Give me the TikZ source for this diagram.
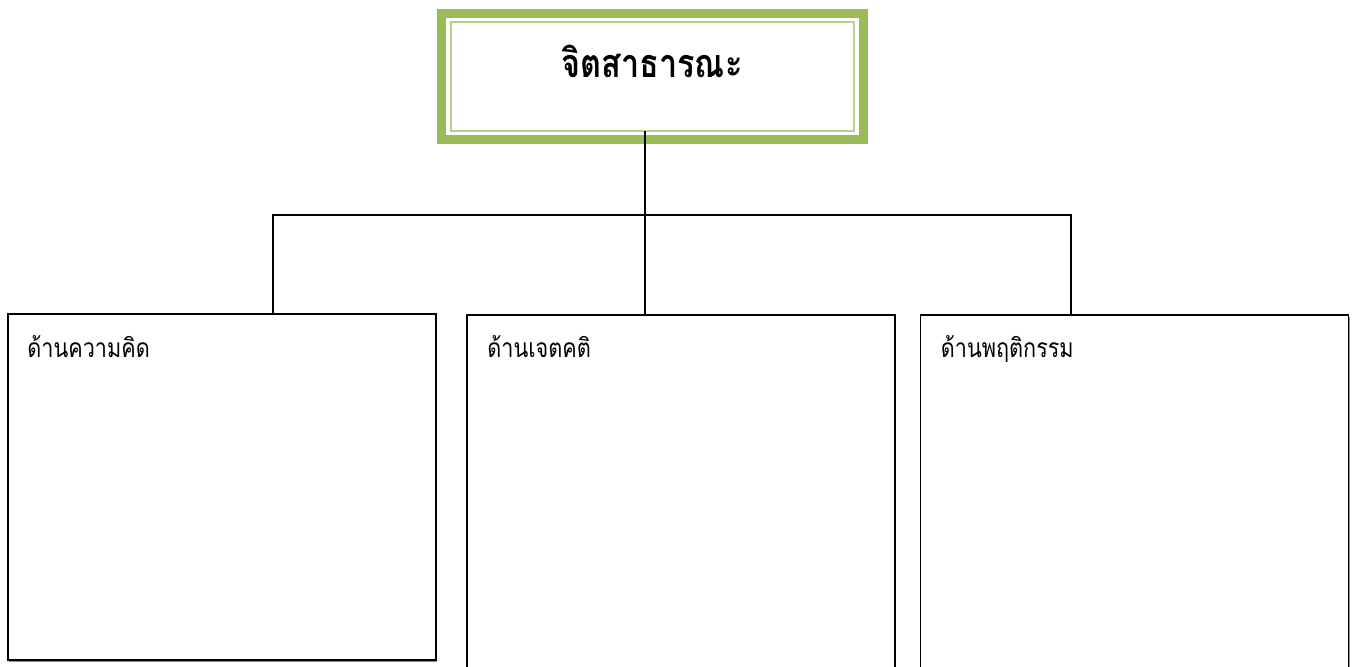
\documentclass[tikz,border=0pt]{standalone}
\usepackage{fontspec}
\newfontfamily\thaifont[Script=Thai, FakeStretch=0.82]{Loma}
\usetikzlibrary{calc,shadows}
\definecolor{framegreen}{HTML}{9BBB59}
\definecolor{paleframe}{HTML}{B9CF8C}
\begin{document}
\begin{tikzpicture}[x = 0.02cm, y = -0.02cm,
        titlebox/.style = {draw = framegreen, line width = 5.1pt, inner sep = 0, outer sep = 0,
                           minimum width = 8.44cm, minimum height = 2.52cm},
        innerframe/.style = {draw = paleframe, line width = 1pt},
        sidebox/.style = {draw, line width = 0.8pt, fill = white, inner sep = 0, outer sep = 0,
                          minimum width = 8.56cm, minimum height = 6.92cm,
                          drop shadow = {shadow xshift = 0.6pt, shadow yshift = -1.2pt, fill = black!45, opacity = 1}},
        titletext/.style = {font = \thaifont\bfseries\fontsize{22.5}{26}\selectfont, inner sep = 0},
        caption/.style = {font = \thaifont\fontsize{15}{18}\selectfont, inner sep = 0, anchor = base west}]
    \clip (0, 0) rectangle (1352, 666);
    % heading
    \node [titlebox] (title) at (652.5, 76.5) {};
    \draw [innerframe] ($(title.north west) + (9.5, 8.5)$) rectangle ($(title.south east) + (-9.5, -8.5)$);
    \node [titletext, anchor = base] (name) at (652, 77) {จิตสาธารณะ};

    % the three sides
    \node [sidebox] (think) at (222, 487) {};
    \node [sidebox, minimum height = 8cm] (mind) at (681, 515) {};
    \node [sidebox, minimum height = 8cm] (act) at (1134.5, 515) {};
    \node [caption] (thinklbl) at ($(think.north west) + (19, 43)$) {ด้านความคิด};
    \node [caption] (mindlbl) at ($(mind.north west) + (20, 42)$) {ด้านเจตคติ};
    \node [caption] (actlbl) at ($(act.north west) + (20, 42)$) {ด้านพฤติกรรม};

    % connectors
    \coordinate (foot) at (645, 131);
    \coordinate (hub) at (645, 215);
    \coordinate (midtop) at (645, 315);
    \coordinate (lefttop) at (273, 314);
    \coordinate (righttop) at (1071, 315);
    \draw [line width = 0.8pt] (foot) -- (midtop);
    \draw [line width = 0.8pt] (lefttop) |- (hub) -| (righttop);
\end{tikzpicture}
\end{document}
